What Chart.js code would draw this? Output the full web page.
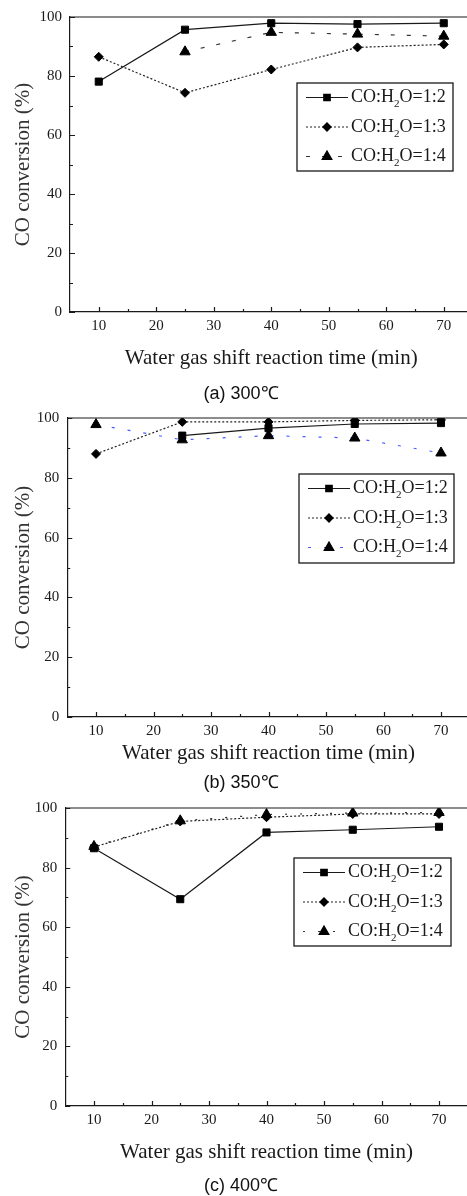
<!DOCTYPE html>
<html>
<head>
<meta charset="utf-8">
<script src="https://cdn.jsdelivr.net/npm/chart.js@4.4.1/dist/chart.umd.min.js"></script>
<style>
  html, body { margin: 0; padding: 0; background: #fff; overflow: hidden; width: 467px; height: 1196px; }
  .panel { position: absolute; left: 0; }
  .cap { position: absolute; left: 0; width: 482px; text-align: center; font-family: "Liberation Sans", Arial, sans-serif; font-size: 18px; line-height: 20px; color: #111; }
</style>
</head>
<body>
<div class="panel" style="top:0px"><canvas id="chartA" width="480" height="380"></canvas></div>
<div class="panel" style="top:400px"><canvas id="chartB" width="480" height="380"></canvas></div>
<div class="panel" style="top:790px"><canvas id="chartC" width="480" height="390"></canvas></div>
<div class="cap" style="top:383px">(a) 300℃</div>
<div class="cap" style="top:772px">(b) 350℃</div>
<div class="cap" style="top:1175px">(c) 400℃</div>
<script>
var times = [10, 25, 40, 55, 70];
var xTicks = [10, 20, 30, 40, 50, 60, 70];
var yTicks = [0, 20, 40, 60, 80, 100];
var ratios = ["1:2", "1:3", "1:4"];

// (a) 300 C
var a12 = [78.1, 95.7, 97.9, 97.6, 97.9];
var a13 = [86.5, 74.3, 82.2, 89.7, 90.7];
var a14 = [null, 88.2, 94.8, 94.2, 93.5];
// (b) 350 C
var b12 = [null, 94.1, 96.6, 98.0, 98.3];
var b13 = [88.0, 98.7, 98.7, 99.2, 99.4];
var b14 = [97.8, 92.7, 94.1, 93.3, 88.3];
// (c) 400 C
var c12 = [86.5, 69.4, 91.8, 92.7, 93.7];
var c13 = [86.9, 95.5, 96.9, 98.0, 98.0];
var c14 = [87.1, 95.7, 97.8, 98.3, 98.5];

var serif = "'Liberation Serif', 'Times New Roman', serif";
var ink = "#1a1a1a";

var framePlugin = {
  id: "frame",
  afterDraw: function (chart) {
    var ctx = chart.ctx, a = chart.chartArea;
    var xs = chart.scales.x, ys = chart.scales.y;
    ctx.save();
    ctx.strokeStyle = ink;
    ctx.lineWidth = 1.2;
    ctx.beginPath();
    ctx.moveTo(a.left, a.top);
    ctx.lineTo(a.right, a.top);
    for (var v = 10; v <= 70; v += 5) {
      var px = Math.round(xs.getPixelForValue(v)) + 0.5;
      ctx.moveTo(px, a.bottom);
      ctx.lineTo(px, a.bottom - (v % 10 === 0 ? 5 : 3));
    }
    for (var w = 0; w <= 100; w += 10) {
      var py = Math.round(ys.getPixelForValue(w)) + 0.5;
      ctx.moveTo(a.left, py);
      ctx.lineTo(a.left + (w % 20 === 0 ? 5 : 3), py);
    }
    ctx.stroke();
    ctx.restore();
  }
};

var keyPlugin = {
  id: "key",
  afterDatasetsDraw: function (chart, args, o) {
    var ctx = chart.ctx;
    ctx.save();
    ctx.lineWidth = 1.3;
    ctx.strokeStyle = ink;
    ctx.strokeRect(o.x, o.y, o.w, o.h);
    chart.data.datasets.forEach(function (ds, i) {
      var cy = o.y + 14.5 + i * 29.5;
      ctx.save();
      ctx.strokeStyle = ds.borderColor;
      ctx.lineWidth = ds.borderWidth;
      ctx.setLineDash(ds.borderDash);
      ctx.beginPath();
      ctx.moveTo(o.x + 9, cy);
      ctx.lineTo(o.x + 51, cy);
      ctx.stroke();
      ctx.restore();
      ctx.fillStyle = "#000";
      ctx.strokeStyle = "#000";
      Chart.helpers.drawPoint(ctx, { pointStyle: ds.pointStyle, radius: ds.pointRadius - 0.5, borderWidth: 1, rotation: 0 }, o.x + 30, cy);
      ctx.fillStyle = ink;
      ctx.textBaseline = "middle";
      ctx.textAlign = "left";
      var tx = o.x + 54;
      ctx.font = "18px " + serif;
      ctx.fillText("CO:H", tx, cy);
      tx += ctx.measureText("CO:H").width;
      ctx.font = "11px " + serif;
      ctx.fillText("2", tx, cy + 7);
      tx += ctx.measureText("2").width;
      ctx.font = "18px " + serif;
      ctx.fillText("O=" + ratios[i], tx, cy);
    });
    ctx.restore();
  }
};

function pts(vals) {
  return times.map(function (t, i) { return { x: t, y: vals[i] }; });
}

function makeChart(id, series, g) {
  var looks = [
    { pointStyle: "rect", pointRadius: 5, borderDash: [], borderColor: ink, borderWidth: 1.2 },
    { pointStyle: "rectRot", pointRadius: 4.5, borderDash: [2, 2], borderColor: "#222", borderWidth: 1.2 },
    { pointStyle: "triangle", pointRadius: 6, borderDash: g.dash4, borderColor: g.color4, borderWidth: 1.2 }
  ];
  var datasets = series.map(function (vals, i) {
    var l = looks[i];
    return {
      label: "CO:H2O=" + ratios[i],
      data: pts(vals),
      borderColor: l.borderColor,
      borderWidth: l.borderWidth,
      borderDash: l.borderDash,
      pointStyle: l.pointStyle,
      pointRadius: l.pointRadius,
      pointBackgroundColor: "#000",
      pointBorderColor: "#000",
      pointBorderWidth: 1,
      fill: false,
      tension: 0,
      spanGaps: false
    };
  });
  var cv = document.getElementById(id);
  return new Chart(cv, {
    type: "line",
    data: { datasets: datasets },
    plugins: [framePlugin, keyPlugin],
    options: {
      responsive: false,
      animation: false,
      events: [],
      layout: { padding: { left: 0, top: g.top, right: g.right, bottom: 0 } },
      plugins: {
        legend: { display: false },
        tooltip: { enabled: false },
        key: g.key
      },
      scales: {
        x: {
          type: "linear",
          min: 5,
          max: 75,
          afterBuildTicks: function (s) { s.ticks = xTicks.map(function (v) { return { value: v }; }); },
          afterFit: function (s) { s.height = cv.height - g.bottom; },
          grid: { display: true, drawOnChartArea: false, drawTicks: false },
          border: { display: true, color: ink, width: 1.2 },
          ticks: { autoSkip: false, maxRotation: 0, padding: 5, color: ink, font: { family: serif, size: 15 } },
          title: { display: true, text: "Water gas shift reaction time (min)", color: ink, font: { family: serif, size: 21, lineHeight: 1.2 }, padding: { top: 0, bottom: g.xTitlePad } }
        },
        y: {
          min: 0,
          max: 100,
          afterBuildTicks: function (s) { s.ticks = yTicks.map(function (v) { return { value: v }; }); },
          afterFit: function (s) { s.width = g.left; },
          grid: { display: true, drawOnChartArea: false, drawTicks: false },
          border: { display: true, color: ink, width: 1.2 },
          ticks: { padding: 8, color: ink, font: { family: serif, size: 15 } },
          title: { display: true, text: "CO conversion (%)", color: "#333", font: { family: serif, size: 21, lineHeight: 1.2 }, padding: { top: 10.4, bottom: 0 } }
        }
      }
    }
  });
}

makeChart("chartA", [a12, a13, a14], {
  top: 15, bottom: 312, left: 70, right: 7.5, xTitlePad: 9.4,
  dash4: [4, 12], color4: "#333",
  key: { x: 297, y: 83, w: 156, h: 88 }
});
makeChart("chartB", [b12, b13, b14], {
  top: 18, bottom: 317, left: 67.25, right: 10.25, xTitlePad: 14.4,
  dash4: [3, 13], color4: "#4a5aff",
  key: { x: 299, y: 74, w: 155, h: 89 }
});
makeChart("chartC", [c12, c13, c14], {
  top: 18, bottom: 316, left: 65.25, right: 12.25, xTitlePad: 15.4,
  dash4: [2, 13], color4: "#333",
  key: { x: 294, y: 68, w: 157, h: 88 }
});
</script>
</body>
</html>
